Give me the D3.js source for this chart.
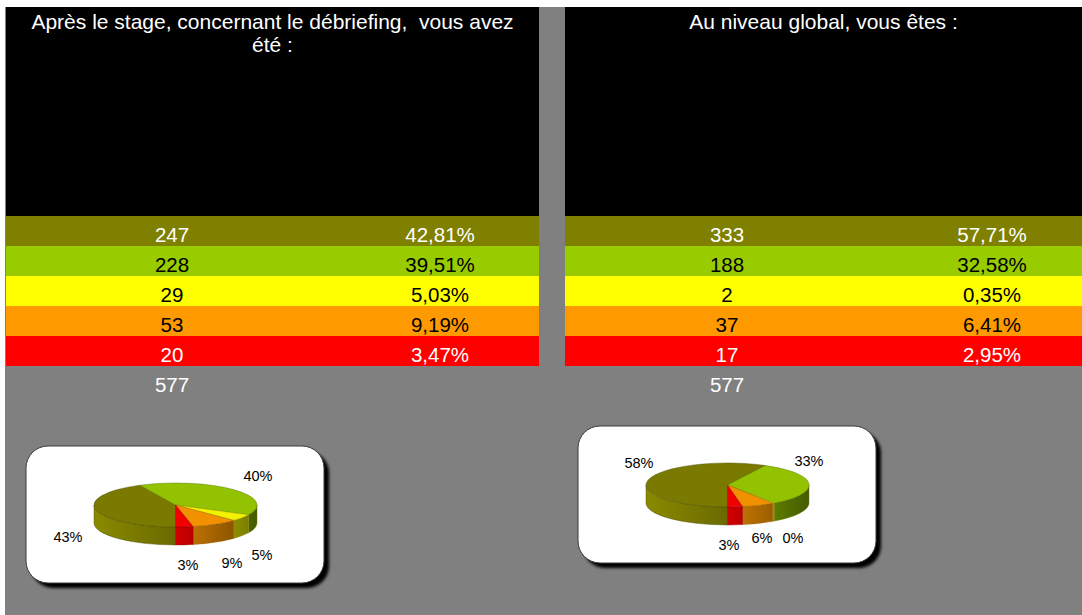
<!DOCTYPE html>
<html><head><meta charset="utf-8">
<script src="https://cdn.jsdelivr.net/npm/d3@7"></script>
<style>
html,body{margin:0;padding:0;background:#fff;}
svg{display:block;font-family:"Liberation Sans",Arial,sans-serif;}
</style></head>
<body>
<svg id="chart" width="1082" height="615"></svg>
<script>
// ---------- data ----------
const categories = ["niveau1", "niveau2", "niveau3", "niveau4", "niveau5"];
const titleLeft = ["Après le stage, concernant le débriefing,  vous avez", "été :"];
const titleRight = ["Au niveau global, vous êtes :"];
const countsLeft = [247, 228, 29, 53, 20];
const pctLeft = ["42,81%", "39,51%", "5,03%", "9,19%", "3,47%"];
const totalLeft = 577;
const countsRight = [333, 188, 2, 37, 17];
const pctRight = ["57,71%", "32,58%", "0,35%", "6,41%", "2,95%"];
const totalRight = 577;

// ---------- styles / layout ----------
const rowColors = ["#808000", "#99cc00", "#ffff00", "#ff9900", "#ff0000"];
const textColors = ["#ffffff", "#000000", "#000000", "#000000", "#ffffff"];
const topColors = ["#7a7a00", "#92c200", "#f2f200", "#f29100", "#f00000"];

const svg = d3.select("#chart");
const W = 1082, H = 615;
const defs = svg.append("defs");

// background
svg.append("rect").attr("x", 0).attr("y", 0).attr("width", W).attr("height", H).attr("fill", "#ffffff");
svg.append("rect").attr("x", 5).attr("y", 7).attr("width", W - 5).attr("height", H - 7).attr("fill", "#808080");

const yRow = d3.scaleBand().domain(categories).range([216, 366]).paddingInner(0).paddingOuter(0);

function drawTable(x0, x1, title, counts, pcts, total, colCount, colPct) {
  const g = svg.append("g");
  g.append("rect").attr("x", x0).attr("y", 7).attr("width", x1 - x0).attr("height", 216 - 7).attr("fill", "#000");
  const cx = (x0 + x1) / 2;
  g.selectAll("text.title").data(title).join("text")
    .attr("class", "title")
    .attr("x", cx).attr("y", (d, i) => 29 + i * 23)
    .attr("text-anchor", "middle").attr("fill", "#fff")
    .style("font-size", "21px").style("white-space", "pre")
    .text(d => d);
  g.selectAll("rect.row").data(categories).join("rect")
    .attr("class", "row")
    .attr("x", x0).attr("width", x1 - x0)
    .attr("y", d => yRow(d)).attr("height", yRow.bandwidth())
    .attr("fill", (d, i) => rowColors[i]);
  g.selectAll("text.cnt").data(counts).join("text")
    .attr("class", "cnt")
    .attr("x", x0 + colCount)
    .attr("y", (d, i) => yRow(categories[i]) + yRow.bandwidth() / 2 + 11)
    .attr("text-anchor", "middle").attr("fill", (d, i) => textColors[i])
    .style("font-size", "20.5px").text(d => d);
  g.selectAll("text.pct").data(pcts).join("text")
    .attr("class", "pct")
    .attr("x", x0 + colPct)
    .attr("y", (d, i) => yRow(categories[i]) + yRow.bandwidth() / 2 + 11)
    .attr("text-anchor", "middle").attr("fill", (d, i) => textColors[i])
    .style("font-size", "20.5px").text(d => d);
  g.append("text")
    .attr("x", x0 + colCount).attr("y", 366 + 15 + 11)
    .attr("text-anchor", "middle").attr("fill", "#fff")
    .style("font-size", "20.5px").text(total);
}

drawTable(6, 539, titleLeft, countsLeft, pctLeft, totalLeft, 166, 434);
drawTable(565, 1082, titleRight, countsRight, pctRight, totalRight, 162, 427);

// shadow filter
const f = defs.append("filter").attr("id", "blur").attr("x", "-10%").attr("y", "-10%").attr("width", "120%").attr("height", "120%");
f.append("feGaussianBlur").attr("stdDeviation", 1.6);

function drawPie(bx, by, counts, labelOffsets, id) {
  const bw = 298, bh = 137;
  const g = svg.append("g");
  g.append("rect").attr("x", bx + 5).attr("y", by + 5).attr("width", bw).attr("height", bh)
    .attr("rx", 22).attr("ry", 22).attr("fill", "#000").attr("filter", "url(#blur)");
  g.append("rect").attr("x", bx).attr("y", by).attr("width", bw).attr("height", bh)
    .attr("rx", 22).attr("ry", 22).attr("fill", "#fff").attr("stroke", "#3a3a3a").attr("stroke-width", 1);

  const cx = bx + 149.5, cy = by + 59, rx = 81.5, ry = 22, depth = 18;
  const total = d3.sum(counts);
  const arcs = d3.pie().sort(null).startAngle(Math.PI).endAngle(3 * Math.PI)(counts);
  const P = (a, dy = 0) => [cx + rx * Math.sin(a), cy - ry * Math.cos(a) + dy];

  rowColors.forEach((c, i) => {
    const gr = defs.append("linearGradient").attr("id", id + "s" + i)
      .attr("gradientUnits", "userSpaceOnUse")
      .attr("x1", cx - rx).attr("x2", cx + rx).attr("y1", 0).attr("y2", 0);
    const base = d3.rgb(c);
    const sc = k => d3.rgb(Math.min(255, base.r * k), Math.min(255, base.g * k), Math.min(255, base.b * k)).toString();
    gr.append("stop").attr("offset", 0).attr("stop-color", sc(1.08));
    gr.append("stop").attr("offset", 0.45).attr("stop-color", sc(0.85));
    gr.append("stop").attr("offset", 1).attr("stop-color", sc(0.45));
  });

  const front = [[Math.PI / 2, 3 * Math.PI / 2], [5 * Math.PI / 2, 7 * Math.PI / 2]];
  arcs.forEach((a, i) => {
    front.forEach(([f0, f1]) => {
      const s = Math.max(a.startAngle, f0), e = Math.min(a.endAngle, f1);
      if (e - s <= 1e-6) return;
      const p0 = P(s), p1 = P(e), q1 = P(e, depth), q0 = P(s, depth);
      const large = (e - s) > Math.PI ? 1 : 0;
      const d = `M${p0}A${rx},${ry} 0 ${large} 1 ${p1}L${q1}A${rx},${ry} 0 ${large} 0 ${q0}Z`;
      g.append("path").attr("d", d).attr("fill", `url(#${id}s${i})`)
        .attr("stroke", d3.rgb(rowColors[i]).darker(1.6)).attr("stroke-width", 0.6).attr("stroke-opacity", 0.7);
    });
  });
  arcs.forEach((a, i) => {
    if (a.endAngle - a.startAngle <= 1e-6) return;
    const p0 = P(a.startAngle), p1 = P(a.endAngle);
    const large = (a.endAngle - a.startAngle) > Math.PI ? 1 : 0;
    const d = `M${cx},${cy}L${p0}A${rx},${ry} 0 ${large} 1 ${p1}Z`;
    g.append("path").attr("d", d).attr("fill", topColors[i])
      .attr("stroke", d3.rgb(rowColors[i]).darker(1.6)).attr("stroke-width", 0.6).attr("stroke-opacity", 0.7);
  });
  arcs.forEach((a, i) => {
    const pct = Math.round(a.data / total * 100) + "%";
    g.append("text").attr("x", cx + labelOffsets[i][0]).attr("y", cy + labelOffsets[i][1] + 5)
      .attr("text-anchor", "middle").attr("fill", "#000").style("font-size", "14.5px").text(pct);
  });
}

const labelOffsetsLeft = [[-107.5, 32], [82.5, -29], [86.5, 50], [56.5, 58], [12.5, 60]];
const labelOffsetsRight = [[-88.5, -22], [81.5, -24], [65.5, 53], [34.5, 53], [1.5, 60]];
drawPie(26, 446, countsLeft, labelOffsetsLeft, "pl");
drawPie(578, 426, countsRight, labelOffsetsRight, "pr");
</script>
</body></html>
